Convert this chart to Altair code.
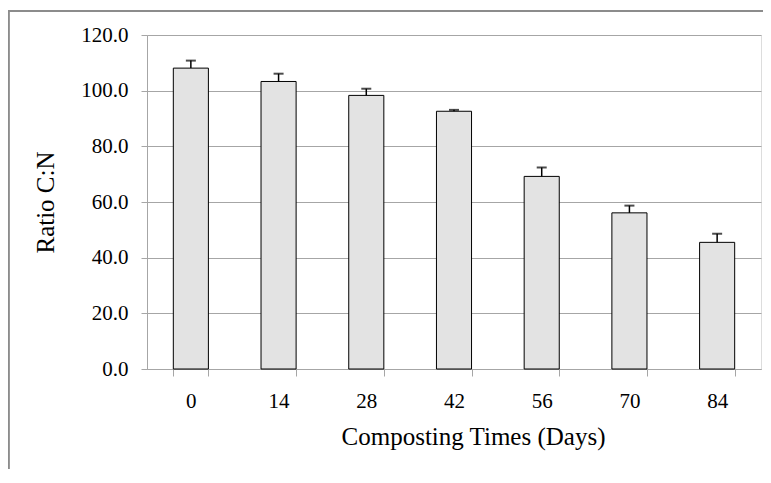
import altair as alt
import pandas as pd

days = ["0", "14", "28", "42", "56", "70", "84"]
ratio = [108.1, 103.3, 98.3, 92.6, 69.2, 56.1, 45.5]
err = [2.7, 2.8, 2.4, 0.5, 3.2, 2.6, 3.1]

df = pd.DataFrame({"day": days, "ratio": ratio, "err": err})
df["top"] = df["ratio"] + df["err"]

FONT = "Liberation Serif"
GRID = "#a6a6a6"

x = alt.X("day:N", sort=days, title="Composting Times (Days)",
          scale=alt.Scale(paddingInner=0.6, paddingOuter=0.3),
          axis=alt.Axis(labelAngle=0, tickBand="extent", tickSize=7, tickColor=GRID,
                        domainColor=GRID, labelFont=FONT, labelFontSize=21,
                        labelColor="#000000", labelPadding=14,
                        titleFont=FONT, titleFontSize=25, titleFontWeight="normal",
                        titleColor="#000000", titlePadding=13, titleX=326,
                        titleAlign="center", titleAnchor="start", grid=False))
y = alt.Y("ratio:Q", title="Ratio C:N",
          scale=alt.Scale(domain=[0, 120]),
          axis=alt.Axis(values=[0, 20, 40, 60, 80, 100, 120], format=".1f",
                        tickSize=6, tickColor=GRID, domainColor=GRID,
                        gridColor=GRID, gridWidth=1.2, labelFont=FONT,
                        labelFontSize=21, labelColor="#000000", labelPadding=13,
                        titleFont=FONT, titleFontSize=25, titleFontWeight="normal",
                        titleColor="#000000", titlePadding=22))

bars = alt.Chart(df).mark_bar(fill="#e3e3e3", stroke="#000000", strokeWidth=1).encode(x=x, y=y)

rules = alt.Chart(df).mark_rule(color="#000000", strokeWidth=1.5).encode(
    x=alt.X("day:N", sort=days), y="ratio:Q", y2="top:Q")
caps = alt.Chart(df).mark_tick(color="#000000", thickness=2, size=10).encode(
    x=alt.X("day:N", sort=days), y="top:Q")

frame_top = alt.Chart(df).mark_rule(color="#8c8c8c", strokeWidth=1.5, clip=False).encode(
    x=alt.value(-139), x2=alt.value(700), y=alt.value(-24))
frame_left = alt.Chart(df).mark_rule(color="#8c8c8c", strokeWidth=1.5, clip=False).encode(
    x=alt.value(-138.5), y=alt.value(-24), y2=alt.value(520))

chart = alt.layer(frame_top, frame_left, bars, rules, caps).properties(
    width=614, height=334,
    autosize=alt.AutoSizeParams(type="none"),
    padding={"left": 139, "top": 27, "right": 2, "bottom": 100},
).configure_view(stroke=None).configure(background="#ffffff")

chart.save("out.html", embed_options={"renderer": "svg", "actions": False})
